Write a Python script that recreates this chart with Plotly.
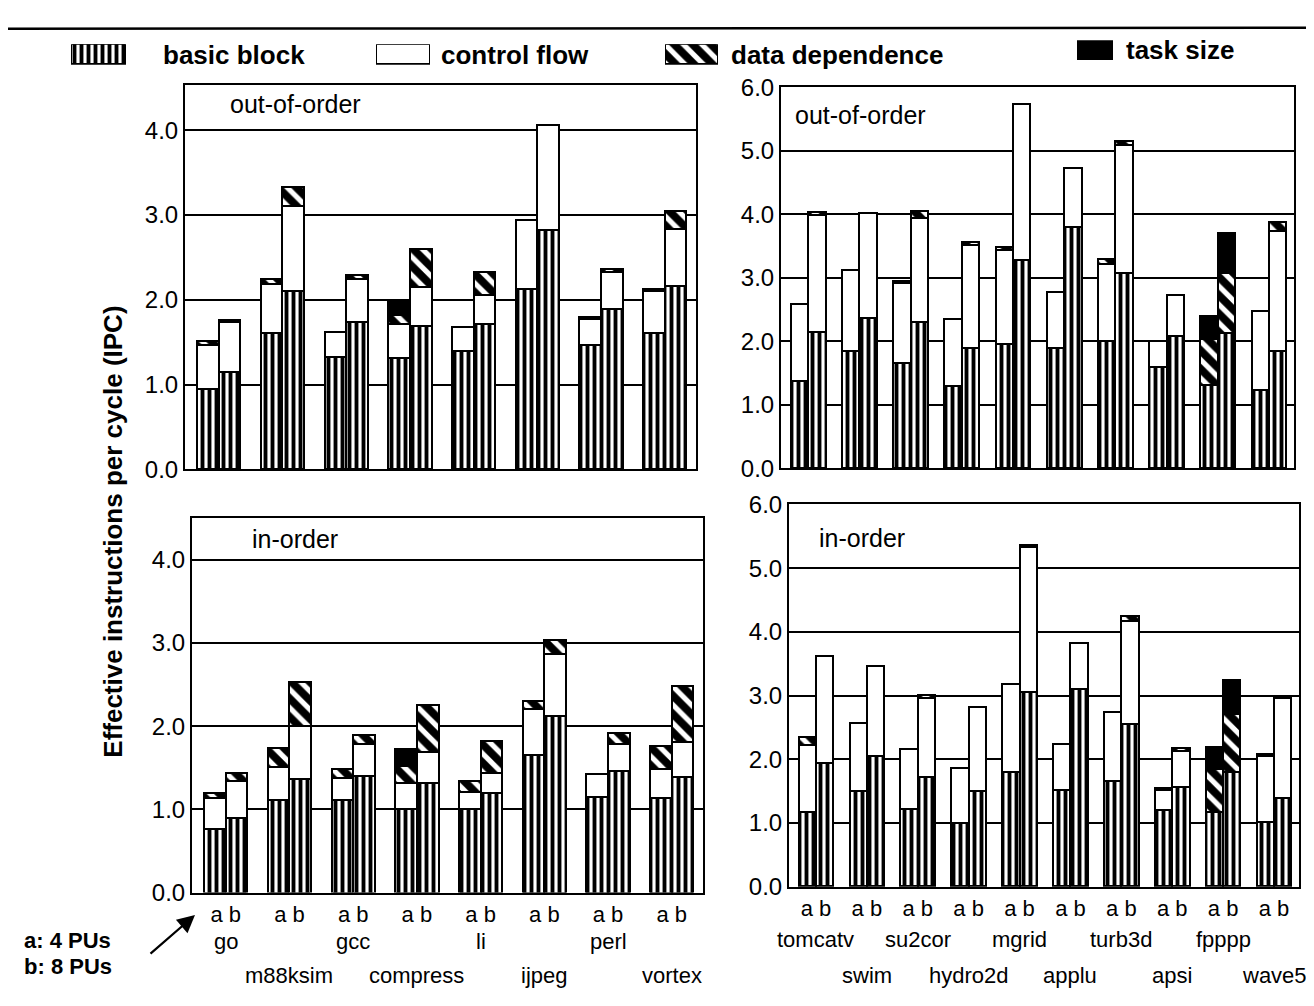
import numpy as np
import plotly.graph_objects as go

# ---------------- data (IPC, stacked contributions) ----------------
int_names = ["go", "m88ksim", "gcc", "compress", "li", "ijpeg", "perl", "vortex"]
fp_names = ["tomcatv", "swim", "su2cor", "hydro2d", "mgrid", "applu", "turb3d", "apsi", "fpppp", "wave5"]
bar_tick = "a b"

# out-of-order, SPECint  (a: 4 PUs, b: 8 PUs)
ooo_int_bb_a = [0.95, 1.61, 1.32, 1.31, 1.39, 2.12, 1.46, 1.61]
ooo_int_cf_a = [0.52, 0.57, 0.30, 0.40, 0.29, 0.82, 0.31, 0.49]
ooo_int_dd_a = [0.04, 0.06, 0.00, 0.11, 0.00, 0.00, 0.03, 0.03]
ooo_int_ts_a = [0.00, 0.00, 0.00, 0.15, 0.00, 0.00, 0.00, 0.00]
ooo_int_bb_b = [1.15, 2.10, 1.74, 1.69, 1.71, 2.82, 1.89, 2.16]
ooo_int_cf_b = [0.58, 1.00, 0.50, 0.46, 0.35, 1.24, 0.44, 0.67]
ooo_int_dd_b = [0.03, 0.23, 0.05, 0.45, 0.27, 0.00, 0.03, 0.21]
ooo_int_ts_b = [0.00, 0.00, 0.00, 0.00, 0.00, 0.00, 0.00, 0.00]

# in-order, SPECint
io_int_bb_a = [0.76, 1.11, 1.11, 1.00, 1.00, 1.65, 1.15, 1.13]
io_int_cf_a = [0.38, 0.40, 0.27, 0.32, 0.21, 0.56, 0.27, 0.36]
io_int_dd_a = [0.06, 0.23, 0.10, 0.20, 0.13, 0.09, 0.00, 0.27]
io_int_ts_a = [0.00, 0.00, 0.00, 0.20, 0.00, 0.00, 0.00, 0.00]
io_int_bb_b = [0.90, 1.36, 1.40, 1.32, 1.19, 2.12, 1.46, 1.39]
io_int_cf_b = [0.44, 0.64, 0.39, 0.37, 0.25, 0.75, 0.33, 0.42]
io_int_dd_b = [0.10, 0.53, 0.10, 0.56, 0.38, 0.17, 0.13, 0.67]
io_int_ts_b = [0.00, 0.00, 0.00, 0.00, 0.00, 0.00, 0.00, 0.00]

# out-of-order, SPECfp
ooo_fp_bb_a = [1.38, 1.85, 1.66, 1.30, 1.95, 1.89, 2.00, 1.59, 1.31, 1.23]
ooo_fp_cf_a = [1.21, 1.27, 1.26, 1.05, 1.49, 0.88, 1.22, 0.41, 0.00, 1.24]
ooo_fp_dd_a = [0.00, 0.00, 0.03, 0.00, 0.05, 0.00, 0.07, 0.00, 0.73, 0.00]
ooo_fp_ts_a = [0.00, 0.00, 0.00, 0.00, 0.00, 0.00, 0.00, 0.00, 0.36, 0.00]
ooo_fp_bb_b = [2.14, 2.36, 2.31, 1.89, 3.28, 3.80, 3.08, 2.08, 2.13, 1.84]
ooo_fp_cf_b = [1.84, 1.66, 1.63, 1.62, 2.45, 0.93, 2.01, 0.65, 0.00, 1.90]
ooo_fp_dd_b = [0.06, 0.00, 0.11, 0.05, 0.00, 0.00, 0.06, 0.00, 0.94, 0.14]
ooo_fp_ts_b = [0.00, 0.00, 0.00, 0.00, 0.00, 0.00, 0.00, 0.00, 0.64, 0.00]

# in-order, SPECfp
io_fp_bb_a = [1.16, 1.49, 1.21, 1.00, 1.79, 1.51, 1.65, 1.19, 1.16, 1.01]
io_fp_cf_a = [1.06, 1.08, 0.95, 0.85, 1.39, 0.73, 1.08, 0.32, 0.00, 1.04]
io_fp_dd_a = [0.12, 0.00, 0.00, 0.00, 0.00, 0.00, 0.00, 0.04, 0.68, 0.03]
io_fp_ts_a = [0.00, 0.00, 0.00, 0.00, 0.00, 0.00, 0.00, 0.00, 0.35, 0.00]
io_fp_bb_b = [1.93, 2.05, 1.71, 1.49, 3.05, 3.10, 2.55, 1.56, 1.79, 1.39]
io_fp_cf_b = [1.68, 1.41, 1.24, 1.33, 2.27, 0.72, 1.61, 0.56, 0.00, 1.57]
io_fp_dd_b = [0.00, 0.00, 0.06, 0.00, 0.03, 0.00, 0.08, 0.05, 0.91, 0.00]
io_fp_ts_b = [0.00, 0.00, 0.00, 0.00, 0.00, 0.00, 0.00, 0.00, 0.54, 0.00]

segment_names = ["basic block", "control flow", "data dependence", "task size"]

# ---------------- styling ----------------
FONT = "Liberation Sans, Arial, Helvetica, sans-serif"
W, H = 1298, 990      # page body keeps its default 8px margin
OFF = 8


def px(x):
    return (x - OFF) / W


def py(y):
    return 1 - (y - OFF) / H


LINE = dict(color="black", width=2)
styles = {
    "basic block": dict(color="white", line=LINE,
                        pattern=dict(shape="|", fgcolor="black", bgcolor="white", fgopacity=1,
                                     size=7, solidity=0.55)),
    "control flow": dict(color="white", line=LINE),
    "data dependence": dict(color="black", line=LINE,
                            pattern=dict(shape="\\", fgcolor="white", bgcolor="black", fgopacity=1,
                                         size=13, solidity=0.4)),
    "task size": dict(color="black", line=LINE),
}

panels = [
    dict(names=int_names, label="out-of-order", xd=(185, 696), yd=(73, 468), ymax=4.53, ticks=[0, 1, 2, 3, 4],
         a=[ooo_int_bb_a, ooo_int_cf_a, ooo_int_dd_a, ooo_int_ts_a],
         b=[ooo_int_bb_b, ooo_int_cf_b, ooo_int_dd_b, ooo_int_ts_b], lab=(0.084, 0.95), nrow=None),
    dict(names=fp_names, label="out-of-order", xd=(781, 1294), yd=(75, 467), ymax=6.0, ticks=[0, 1, 2, 3, 4, 5, 6],
         a=[ooo_fp_bb_a, ooo_fp_cf_a, ooo_fp_dd_a, ooo_fp_ts_a],
         b=[ooo_fp_bb_b, ooo_fp_cf_b, ooo_fp_dd_b, ooo_fp_ts_b], lab=(0.023, 0.926), nrow=None),
    dict(names=int_names, label="in-order", xd=(192, 703), yd=(518, 903), ymax=4.5, ticks=[0, 1, 2, 3, 4],
         a=[io_int_bb_a, io_int_cf_a, io_int_dd_a, io_int_ts_a],
         b=[io_int_bb_b, io_int_cf_b, io_int_dd_b, io_int_ts_b], lab=(0.113, 0.943), nrow=(953, 988)),
    dict(names=fp_names, label="in-order", xd=(789, 1299), yd=(504, 897), ymax=6.0, ticks=[0, 1, 2, 3, 4, 5, 6],
         a=[io_fp_bb_a, io_fp_cf_a, io_fp_dd_a, io_fp_ts_a],
         b=[io_fp_bb_b, io_fp_cf_b, io_fp_dd_b, io_fp_ts_b], lab=(0.055, 0.911), nrow=(951, 988)),
]

BAR_W = 0.34
fig = go.Figure()
layout = {}
annotations = []

for k, p in enumerate(panels, start=1):
    sx = "" if k == 1 else str(k)
    n = len(p["names"])
    idx = np.arange(n)
    xpos = np.concatenate([idx - BAR_W / 2, idx + BAR_W / 2])
    for s, seg in enumerate(segment_names):
        vals = list(p["a"][s]) + list(p["b"][s])
        vals = [v if v > 0 else None for v in vals]
        fig.add_trace(go.Bar(x=xpos, y=vals, width=BAR_W, marker=styles[seg], name=seg,
                             showlegend=False, xaxis="x" + sx, yaxis="y" + sx, hoverinfo="skip"))
    bottom = p["nrow"] is not None
    layout["xaxis" + sx] = dict(domain=[px(p["xd"][0]), px(p["xd"][1])], range=[-0.53, n - 0.51],
                                anchor="y" + sx, tickmode="array", tickvals=list(idx), ticktext=[bar_tick] * n,
                                showticklabels=bottom,
                                ticks="", showgrid=False, zeroline=False, showline=True, mirror=True,
                                linecolor="black", linewidth=2, tickfont=dict(size=22, color="black"),
                                ticklabelstandoff=1, fixedrange=True)
    layout["yaxis" + sx] = dict(domain=[py(p["yd"][1]), py(p["yd"][0])], range=[0, p["ymax"]],
                                anchor="x" + sx, tickmode="array", tickvals=p["ticks"], tickformat=".1f",
                                ticks="", showgrid=True, gridcolor="black", gridwidth=1.6, zeroline=False,
                                showline=True, mirror=True, linecolor="black", linewidth=2,
                                tickfont=dict(size=24, color="black"), fixedrange=True)
    annotations.append(dict(text=p["label"], xref=f"x{sx} domain", yref=f"y{sx} domain",
                            x=p["lab"][0], y=p["lab"][1], xanchor="left", yanchor="middle",
                            showarrow=False, font=dict(size=25, color="black")))
    if bottom:
        rows = p["nrow"]
        for i, name in enumerate(p["names"]):
            annotations.append(dict(text=name, xref="x" + sx, yref="paper", x=i, y=py(rows[i % 2]),
                                    xanchor="center", yanchor="middle", showarrow=False,
                                    font=dict(size=22, color="black")))

# legend swatches, each in its own tiny axis
swatch = [1]
legend_boxes = [(71, 126, 31, 52, 161, 42), (376, 430, 31, 52, 439, 42),
                (665, 718, 31, 52, 729, 42), (1077, 1113, 27, 47, 1124, 37)]
for j, seg in enumerate(segment_names):
    k = 5 + j
    x0, x1, y0, y1, tx, ty = legend_boxes[j]
    fig.add_trace(go.Bar(x=[0], y=swatch, width=1, marker=styles[seg], showlegend=False,
                         xaxis=f"x{k}", yaxis=f"y{k}", hoverinfo="skip"))
    layout[f"xaxis{k}"] = dict(domain=[px(x0), px(x1)], range=[-0.5, 0.5], visible=False, anchor=f"y{k}",
                               fixedrange=True)
    layout[f"yaxis{k}"] = dict(domain=[py(y1), py(y0)], range=[0, 1], visible=False, anchor=f"x{k}",
                               fixedrange=True)
    annotations.append(dict(text=f"<b>{seg}</b>", xref="paper", yref="paper", x=px(tx), y=py(ty),
                            xanchor="left", yanchor="middle", showarrow=False,
                            font=dict(size=26, color="black")))

# axis title and PU key
annotations.append(dict(text="<b>Effective instructions per cycle (IPC)</b>", xref="paper", yref="paper",
                        x=px(96), y=py(532), textangle=-90, showarrow=False,
                        font=dict(size=26, color="black")))
annotations.append(dict(text="<b>a: 4 PUs</b>", xref="paper", yref="paper", x=px(22), y=py(952),
                        xanchor="left", yanchor="middle", showarrow=False, font=dict(size=22, color="black")))
annotations.append(dict(text="<b>b: 8 PUs</b>", xref="paper", yref="paper", x=px(22), y=py(979),
                        xanchor="left", yanchor="middle", showarrow=False, font=dict(size=22, color="black")))
annotations.append(dict(text="", xref="paper", yref="paper", x=px(195), y=py(926), ax=-46, ay=40,
                        axref="pixel", ayref="pixel", showarrow=True, arrowhead=2, arrowsize=1.6,
                        arrowwidth=2.2, arrowcolor="black"))

fig.update_layout(
    width=W, height=H, autosize=False, margin=dict(l=0, r=0, t=0, b=0),
    paper_bgcolor="white", plot_bgcolor="white", barmode="stack", bargap=0,
    font=dict(family=FONT, color="black"), annotations=annotations,
    shapes=[dict(type="line", xref="paper", yref="paper", x0=px(0), x1=px(1314), y0=py(15), y1=py(14),
                 line=dict(color="black", width=2.5))],
    **layout,
)

fig.write_html("out.html")
